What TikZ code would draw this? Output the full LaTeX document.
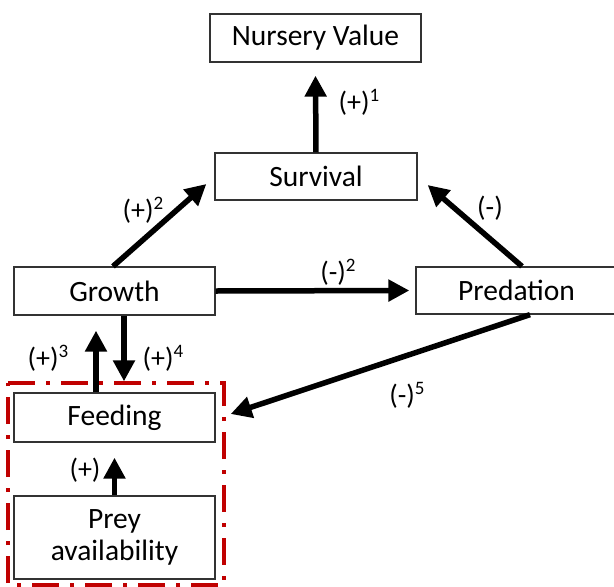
\documentclass[tikz,border=0pt]{standalone}
\usepackage{fontspec}
\setmainfont{Carlito}
\usetikzlibrary{arrows.meta}
\definecolor{dred}{RGB}{192,0,0}
\newcommand{\lbl}[2]{#1\raisebox{10pt}{\fontsize{19}{19}\selectfont #2}}
\tikzset{
  box/.style={draw=black!80, line width=1.3pt, fill=white, inner sep=0pt,
    font=\fontsize{29.5}{35}\selectfont, align=center},
  arr/.style={line width=5.5pt, -{Triangle[width=21pt,length=21pt]}},
  lab/.style={inner sep=0pt, font=\fontsize{28}{32}\selectfont},
  redframe/.style={draw=dred, line width=3.5pt, dash pattern=on 27pt off 11pt on 4pt off 11pt}
}
\begin{document}
\begin{tikzpicture}[x=1pt,y=-1pt]
\clip (0,0) rectangle (614,587);
\fill[white] (0,0) rectangle (614,587);
\draw[redframe] (8,383) -- (224,383) -- (224,585) -- (8,585) -- cycle;
\node[box, minimum width=211pt, minimum height=48pt] (nv) at (315.5,38) {Nursery Value};
\node[box, minimum width=202pt, minimum height=47pt] (surv) at (316,176.5) {Survival};
\node[box, minimum width=201pt, minimum height=48pt] (grow) at (114.5,291) {Growth};
\node[box, minimum width=201pt, minimum height=47pt] (pred) at (516.5,290.5) {Predation};
\node[box, minimum width=201pt, minimum height=49pt] (feed) at (114.5,417.5) {Feeding};
\node[box, minimum width=201pt, minimum height=83pt] (prey) at (114.5,537.5) {Prey\\[-3pt]availability};
% connectors
\draw[arr] (surv.north) -- ([yshift=-13pt]nv.south);
\draw[arr] ([xshift=-1.5pt]grow.north) -- ([xshift=-8pt,yshift=-7.5pt]surv.west);
\draw[arr] ([xshift=5.5pt]pred.north) -- ([xshift=10pt,yshift=-8.5pt]surv.east);
\draw[arr] (grow.east) -- ([xshift=-6pt]pred.west);
\draw[arr] ([xshift=13.5pt]pred.south) -- ([xshift=15pt,yshift=3.5pt]feed.east);
\draw[arr] ([xshift=-18.5pt]feed.north) -- ([xshift=-18.5pt,yshift=-15pt]grow.south);
\draw[arr] ([xshift=9.5pt]grow.south) -- ([xshift=9.5pt,yshift=11pt]feed.north);
\draw[arr] (prey.north) -- ([yshift=-15pt]feed.south);
% labels
\node[lab] (l1) at (359,102) {\lbl{(+)}{1}};
\node[lab] (l2) at (143,210) {\lbl{(+)}{2}};
\node[lab] (l3) at (490,208) {(-)};
\node[lab] (l4) at (338,272) {\lbl{(-)}{2}};
\node[lab] (l5) at (407,395) {\lbl{(-)}{5}};
\node[lab] (l6) at (48,358) {\lbl{(+)}{3}};
\node[lab] (l7) at (163,358) {\lbl{(+)}{4}};
\node[lab] (l8) at (85,470) {(+)};
\end{tikzpicture}
\end{document}
